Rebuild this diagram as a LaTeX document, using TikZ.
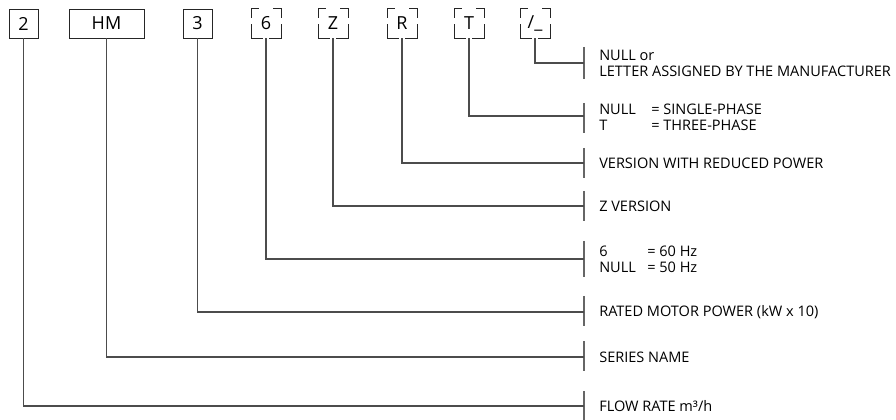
\documentclass[tikz,border=0pt]{standalone}
\usepackage{fontspec}
\setmainfont{Open Sans}
\tikzset{
  code/.style={draw=black!85, line width=0.7pt, minimum height=21.75pt, minimum width=21.75pt,
    inner sep=0pt, font=\fontsize{13.5}{15}\selectfont},
  optcode/.style={code, draw=none},
  desc/.style={anchor=west, align=left, inner sep=0pt, font=\fontsize{10.9}{12}\selectfont},
  lead/.style={line width=0.9pt, draw=black!70},
  bar/.style={line width=1.2pt, draw=black!60},
  brk/.style={line width=0.7pt, draw=black!85}
}
% corner brackets round an optional code letter
\newcommand\brackets[1]{%
  \draw[brk] (#1.north west) ++(0,9) |- ++(8,-9);
  \draw[brk] (#1.north east) ++(0,9) |- ++(-8,-9);
  \draw[brk] (#1.south west) ++(0,-14) |- ++(12,14);
  \draw[brk] (#1.south east) ++(0,-14) |- ++(-12,14);
}
\begin{document}
\begin{tikzpicture}[x=0.75pt,y=-0.75pt]
\useasboundingbox (0,0) rectangle (896,420);
% the code
\node[code] (c2) at (23.5,23.5) {2};
\node[code, minimum width=56.25pt] (chm) at (106.5,23.5) {HM};
\node[code] (c3) at (197.5,23.5) {3};
\node[optcode] (c6) at (266,23.5) {6};
\node[optcode] (cz) at (333,23.5) {Z};
\node[optcode] (cr) at (402,23.5) {R};
\node[optcode] (ct) at (469,23.5) {T};
\node[optcode] (cs) at (535,23.5) {/\_};
\foreach \n in {c6,cz,cr,ct,cs} \brackets{\n};
% bars on the right
\foreach \n/\y/\a/\b in {s/63/47/79, t/116/103/133, r/163/148/178, z/206/191/221,
    f/259/241/277, p/312/296/326, h/357/341/371, q/406/391/421}
  {\coordinate (e\n) at (584,\y);
   \draw[bar] (584,\a) -- (584,\b);}
% leads
\foreach \c/\n in {cs/s, ct/t, cr/r, cz/z, c6/f, c3/p, chm/h, c2/q}
  \draw[lead] (\c.south) |- (e\n);
% meanings
\node[desc] (ds) at (599,63) {NULL or\\LETTER ASSIGNED BY THE MANUFACTURER};
\node[desc] (dt) at (599,117) {\makebox[39pt][l]{NULL}= SINGLE-PHASE\\\makebox[39pt][l]{T}= THREE-PHASE};
\node[desc] (dr) at (599,163) {VERSION WITH REDUCED POWER};
\node[desc] (dz) at (599,206) {Z VERSION};
\node[desc] (df) at (599,259) {\makebox[36pt][l]{6}= 60 Hz\\\makebox[36pt][l]{NULL}= 50 Hz};
\node[desc] (dp) at (599,312) {RATED MOTOR POWER (kW x 10)};
\node[desc] (dh) at (599,357) {SERIES NAME};
\node[desc] (dq) at (599,406) {FLOW RATE m³/h};
\end{tikzpicture}
\end{document}
